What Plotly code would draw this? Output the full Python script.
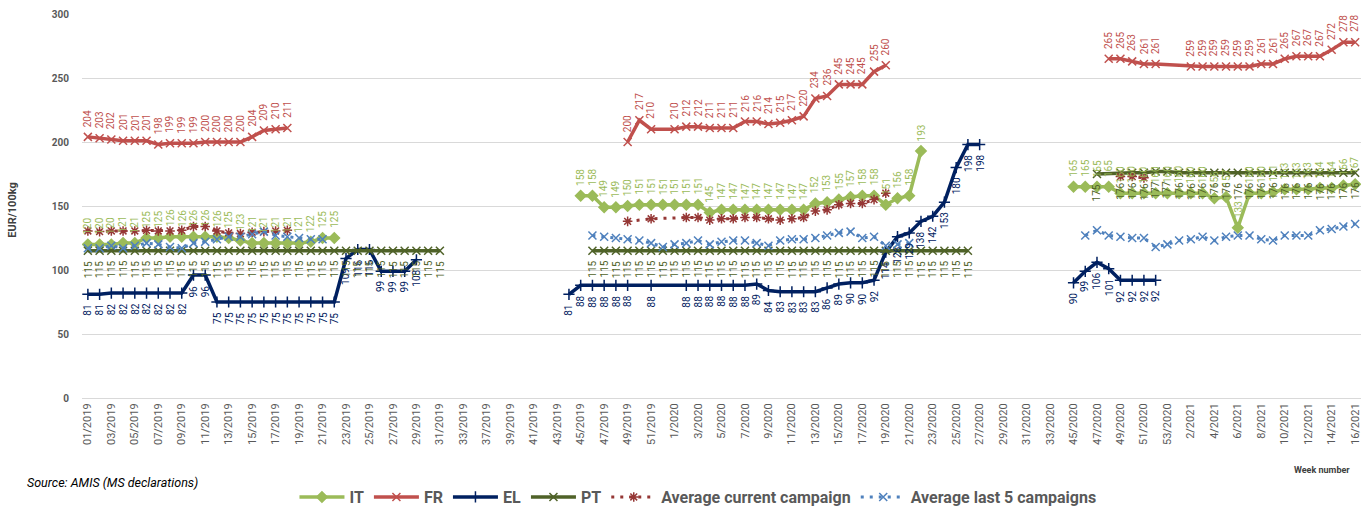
import plotly.graph_objects as go

# ---------------- categories (weeks) ----------------
weeks_2019 = list(range(1, 34)) + [35] + list(range(37, 53))
weeks_2020 = list(range(1, 34)) + [34] + list(range(45, 54))
weeks_2021 = list(range(1, 17))
cats = ([f"{w:02d}/2019" for w in weeks_2019]
        + [f"{w}/2020" for w in weeks_2020]
        + [f"{w}/2021" for w in weeks_2021])
tick_labels = cats[::2]

# ---------------- series values (blocks: start week, values) ----------------
IT = [
    ("01/2019", [120, 120, 120, 121, 121, 125, 125, 126, 126, 126, 126, 126, 125, 123, 121, 121, 121, 121, 121, 122, 125, 125]),
    ("45/2019", [158, 158, 149, 149, 150, 151, 151, 151, 151, 151, 151, 145, 147, 147, 147, 147, 147, 147, 147, 147,
                 152, 153, 155, 157, 158, 158, 151, 156, 158, 193]),
    ("45/2020", [165, 165, 165, 165, 160, 160, 160, 160, 160, 160, 160, 160, 156, 157, 133, 160, 160, 161, 163, 163,
                 163, 164, 164, 166, 167]),
]
FR = [
    ("01/2019", [204, 203, 202, 201, 201, 201, 198, 199, 199, 199, 200, 200, 200, 200, 204, 209, 210, 211]),
    ("49/2019", [200, 217, 210, None, 210, 212, 212, 211, 211, 211, 216, 216, 214, 215, 217, 220, 234, 236, 245, 245,
                 245, 255, 260]),
    ("48/2020", [265, 265, 263, 261, 261, None, None, 259, 259, 259, 259, 259, 259, 261, 261, 265, 267, 267, 267, 272,
                 278, 278]),
]
EL = [
    ("01/2019", [81, 81, 82, 82, 82, 82, 82, 82, 82, 96, 96, 75, 75, 75, 75, 75, 75, 75, 75, 75, 75, 75, 109, 116, 116,
                 99, 99, 99, 108]),
    ("44/2019", [81, 88, 88, 88, 88, 88, None, 88, None, None, 88, 88, 88, 88, 88, 88, 89, 84, 83, 83, 83, 83, 86, 89,
                 90, 90, 92, 114, 126, 129, 138, 142, 153, 180, 198, 198]),
    ("45/2020", [90, 99, 106, 101, 92, 92, 92, 92]),
]
PT = [
    ("01/2019", [115, 115, 115, 115, 115, 115, 115, 115, 115, 115, 115, 115, 115, 115, 115, 115, 115, 115, 115, 115,
                 115, 115, 115, 115, 115, 115, 115, 115, 115, 115, 115]),
    ("46/2019", [115, 115, 115, 115, 115, 115, 115, 115, 115, 115, 115, 115, 115, 115, 115, 115, 115, 115, 115, 115,
                 115, 115, 115, 115, 115, 115, 115, 115, 115, 115, 115, 115, 115]),
    ("47/2020", [175, None, 176, 176, 176, 177, 177, 176, 176, 176, 176, 176, 176, 176, 176, 176, 176, 176, 176, 176,
                 176, 176, 176]),
]
AVG_CUR = [
    ("01/2019", [130.5, 130, 130.5, 130.5, 130.5, 131, 130.5, 130.5, 131, 134, 134, 130.5, 129, 128.5, 129.5, 130,
                 130.5, 131]),
    ("49/2019", [138, None, 140, None, None, 141, 141, 139, 140, 140, 141, 141, 140, 139, 140, 141, 146, 147, 151, 152,
                 152, 155, 160]),
    ("49/2020", [173, 173, 172]),
]
AVG_5 = [
    ("01/2019", [117, 117, 119, 117, 119, 121, 120, 118, 117, 121, 122, 124, 126, 126, 128, 130, 127, 126, 125, 124,
                 124]),
    ("46/2019", [127, 126, 125, 124, 123, 121, 118, 120, 121, 123, 120, 122, 123, 123, 121, 119, 123, 124, 124, 125,
                 127, 129, 130, 125, 126, 119, 120, 121]),
    ("46/2020", [127, 131, 127, 126, 125, 125, 118, 120, 123, 124, 126, 123, 126, 127, 127, 124, 123, 127, 127, 127,
                 131, 132, 134, 136]),
]

# ---------------- styling ----------------
series = [
    dict(name="IT", blocks=IT, color="#9BBB59", symbol="diamond", msize=8, dash="solid", width=3.5, label="above"),
    dict(name="FR", blocks=FR, color="#C0504D", symbol="x-thin-open", msize=8, dash="solid", width=3.5, label="above"),
    dict(name="EL", blocks=EL, color="#002060", symbol="cross-thin-open", msize=8, dash="solid", width=3.5, label="below"),
    dict(name="PT", blocks=PT, color="#4F6228", symbol="x-thin-open", msize=8, dash="solid", width=3.5, label="below"),
    dict(name="Average current campaign", blocks=AVG_CUR, color="#953735", symbol="asterisk-open", msize=8,
         dash="3px,6px", width=3, label=None),
    dict(name="Average last 5 campaigns", blocks=AVG_5, color="#4F81BD", symbol="x-thin-open", msize=8,
         dash="3px,6px", width=3, label=None),
]

FONT = "Roboto, Arial"
fig = go.Figure()
annotations = []
for s in series:
    first = True
    for start, vals in s["blocks"]:
        i0 = cats.index(start)
        xs = cats[i0:i0 + len(vals)]
        fig.add_trace(go.Scatter(
            x=xs, y=vals, mode="lines+markers", name=s["name"], legendgroup=s["name"],
            showlegend=first, connectgaps=True,
            line=dict(color=s["color"], width=s["width"], dash=s["dash"]),
            marker=dict(symbol=s["symbol"], size=s["msize"], color=s["color"],
                        line=dict(color=s["color"], width=1.5)),
        ))
        first = False
        if s["label"]:
            for x, v in zip(xs, vals):
                if v is None:
                    continue
                above = s["label"] == "above"
                annotations.append(dict(
                    x=x, y=v, xref="x", yref="y", text=str(v), showarrow=False, textangle=-90,
                    yanchor="bottom" if above else "top", xanchor="center",
                    yshift=9 if above else -9, borderpad=0,
                    font=dict(family=FONT, size=10, color=s["color"]),
                ))

# axis title, source, week number
annotations.append(dict(text="<b>EUR/100kg</b>", xref="paper", yref="paper", x=-0.054, y=0.49,
                        textangle=-90, showarrow=False, xanchor="center", yanchor="middle",
                        font=dict(family=FONT, size=11, color="#404040")))
annotations.append(dict(text="<i>Source: AMIS (MS declarations)</i>", xref="paper", yref="paper",
                        x=-0.0446, y=-0.219, showarrow=False, xanchor="left", yanchor="middle",
                        font=dict(family=FONT, size=12.5, color="#000000")))
annotations.append(dict(text="<b>Week number</b>", xref="paper", yref="paper", x=0.993, y=-0.1875,
                        showarrow=False, xanchor="right", yanchor="middle",
                        font=dict(family=FONT, size=9, color="#404040")))

fig.update_layout(
    width=1371, height=515,
    margin=dict(l=82, r=10, t=14, b=117, autoexpand=False),
    plot_bgcolor="white", paper_bgcolor="white",
    font=dict(family=FONT, color="#595959"),
    annotations=annotations,
    legend=dict(orientation="h", x=0.4816, xanchor="center", y=-0.258, yanchor="middle",
                font=dict(size=16, color="#595959", weight="bold"), itemwidth=45,
                bgcolor="rgba(0,0,0,0)"),
    xaxis=dict(type="category", categoryorder="array", categoryarray=cats, range=[-0.5, len(cats) - 0.5],
               tickmode="array", tickvals=tick_labels, ticktext=tick_labels, tickangle=-90,
               tickfont=dict(size=11, color="#595959"), showgrid=False, showline=True,
               linecolor="#D9D9D9", linewidth=1, ticks="", automargin=False),
    yaxis=dict(range=[0, 300], dtick=50, showgrid=True, gridcolor="#D9D9D9", gridwidth=1,
               zeroline=False, showline=False, ticks="", ticklabelstandoff=12,
               tickfont=dict(size=10, color="#595959", weight="bold"), automargin=False),
)

# remove the default 8px page margin so the figure sits at the window's top-left corner
fig.write_html("out.html", config={"displayModeBar": False},
               post_script="document.body.style.margin='0';")
